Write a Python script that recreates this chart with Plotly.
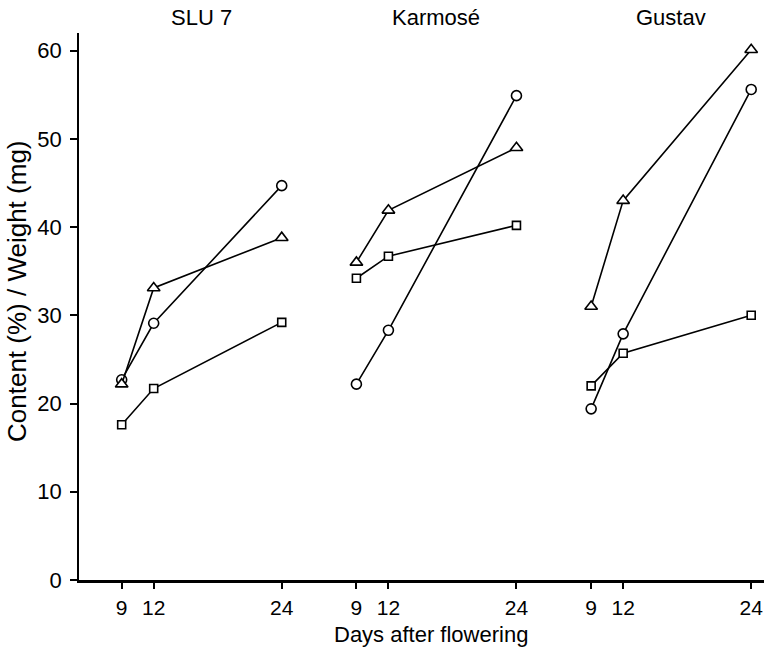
import plotly.graph_objects as go

# ---- data ----
cultivars = ["SLU 7", "Karmosé", "Gustav"]
days = [9, 12, 24]
tick_labels = ["9", "12", "24"]
panel_spacing = 22  # days between panels on the shared axis

circle_vals = [[22.7, 29.1, 44.7], [22.2, 28.3, 54.9], [19.4, 27.9, 55.6]]
triangle_vals = [[22.2, 33.1, 38.8], [36.0, 41.9, 49.0], [31.0, 43.0, 60.1]]
square_vals = [[17.6, 21.7, 29.2], [34.2, 36.7, 40.2], [22.0, 25.7, 30.0]]

y_ticks = [0, 10, 20, 30, 40, 50, 60]

FONT = "Liberation Sans, Arial, Helvetica, sans-serif"

fig = go.Figure()

series = [
    (circle_vals, "circle", 10),
    (triangle_vals, "triangle-up", 11),
    (square_vals, "square", 8),
]

for k, name in enumerate(cultivars):
    xs = [d + k * panel_spacing for d in days]
    for vals, sym, size in series:
        fig.add_trace(go.Scatter(
            x=xs, y=vals[k], mode="lines+markers",
            line=dict(color="black", width=1.6),
            marker=dict(symbol=sym, size=size, color="white",
                        line=dict(color="black", width=1.6)),
            showlegend=False, cliponaxis=False,
        ))
    fig.add_annotation(x=16.5 + k * panel_spacing, y=(580 - 17) / 547, xref="x", yref="paper",
                       text=name, showarrow=False,
                       font=dict(size=22, family=FONT, color="black"),
                       yanchor="middle")

tickvals = [d + k * panel_spacing for k in range(len(cultivars)) for d in days]
ticktext = tick_labels * len(cultivars)

fig.update_layout(
    width=764, height=647,
    margin=dict(l=79, r=0, t=33, b=67),
    plot_bgcolor="white", paper_bgcolor="white",
    font=dict(family=FONT, size=21, color="black"),
    xaxis=dict(range=[5.0, 69.2], tickvals=tickvals, ticktext=ticktext,
               showgrid=False, zeroline=False, showline=True, linecolor="black",
               linewidth=2.5, ticks="outside", ticklen=6, tickwidth=1.5,
               tickcolor="black", ticklabelstandoff=1,
               tickfont=dict(size=21, family=FONT)),
    yaxis=dict(range=[0, 62], tickvals=y_ticks, showgrid=False, zeroline=False,
               showline=True, linecolor="black", linewidth=1.5, ticks="outside",
               ticklen=7, tickwidth=1.5, tickcolor="black", ticklabelstandoff=4,
               tickfont=dict(size=22, family=FONT)),
)

fig.add_annotation(x=(431 - 79) / 685, y=(580 - 634) / 547, xref="paper", yref="paper",
                   text="Days after flowering", showarrow=False,
                   font=dict(size=22, family=FONT, color="black"), yanchor="middle")
fig.add_annotation(x=0, xshift=-62, y=(580 - 291) / 547, xref="paper", yref="paper",
                   text="Content (%) / Weight (mg)", textangle=-90, showarrow=False,
                   font=dict(size=26, family=FONT, color="black"),
                   xanchor="center", yanchor="middle")

fig.write_html("out.html")
